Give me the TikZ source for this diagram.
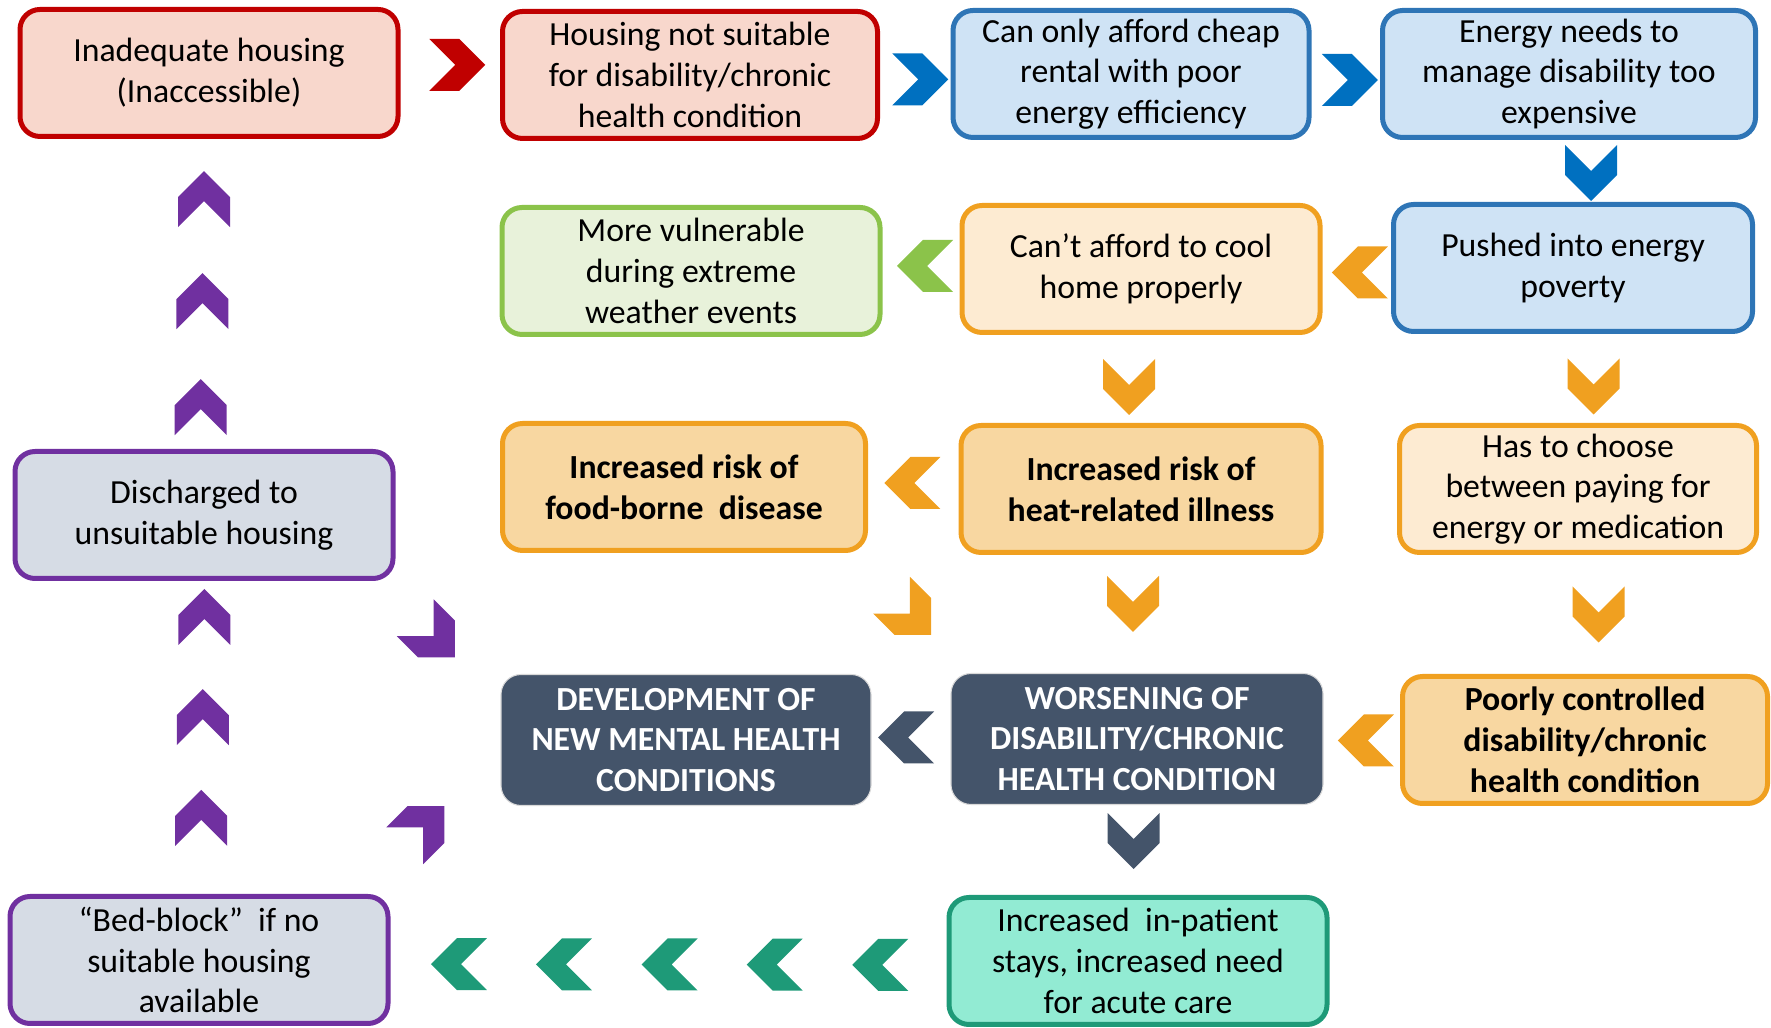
\documentclass[tikz,border=0pt]{standalone}
\usepackage{fontspec}
\setmainfont{Carlito}
\usetikzlibrary{calc}
\definecolor{redline}{HTML}{C00000}
\definecolor{redfill}{HTML}{F8D7CC}
\definecolor{blueline}{HTML}{2E75B6}
\definecolor{bluefill}{HTML}{CFE3F5}
\definecolor{bluechev}{HTML}{0070C0}
\definecolor{greenline}{HTML}{8BC34A}
\definecolor{greenfill}{HTML}{E8F2DA}
\definecolor{orangeline}{HTML}{F0A020}
\definecolor{orangelight}{HTML}{FDEBD2}
\definecolor{orangefill}{HTML}{F8D7A1}
\definecolor{slate}{HTML}{44546A}
\definecolor{purpleline}{HTML}{7030A0}
\definecolor{purplefill}{HTML}{D6DCE5}
\definecolor{tealline}{HTML}{1E9A78}
\definecolor{tealfill}{HTML}{92EBD3}
\tikzset{
  box/.style={rectangle,rounded corners=2mm,line width=0.5mm,align=center,
    inner sep=0pt,minimum width=37.8mm,minimum height=12.7mm,
    font=\fontsize{9.6}{11.6}\selectfont},
  redbox/.style={box,draw=redline,fill=redfill},
  bluebox/.style={box,draw=blueline,fill=bluefill},
  greenbox/.style={box,draw=greenline,fill=greenfill},
  lightbox/.style={box,draw=orangeline,fill=orangelight},
  boldbox/.style={box,draw=orangeline,fill=orangefill,
    font=\fontsize{9.6}{11.6}\selectfont\bfseries},
  darkbox/.style={box,draw=black!15,line width=0.3pt,fill=slate,text=white,
    minimum height=13.1mm,font=\fontsize{9.6}{11.6}\selectfont\bfseries},
  purplebox/.style={box,draw=purpleline,fill=purplefill},
  tealbox/.style={box,draw=tealline,fill=tealfill},
  chev/.pic={\fill[pic actions] (-28,-26) -- (-2,0) -- (-28,26) -- (2,26)
    -- (28,0) -- (2,-26) -- cycle;},
}

\begin{document}
\begin{tikzpicture}[x=0.1mm,y=-0.1mm]
  \path[use as bounding box] (0,0) rectangle (1771,1028);
  % boxes
  \node[redbox] (inad) at (209,73) {Inadequate housing\\(Inaccessible)};
  \node[redbox,minimum width=37.5mm] (unsuit) at (690,75) {Housing not suitable\\for disability/chronic\\health condition};
  \node[bluebox,minimum width=35.6mm] (cheap) at (1131,74) {Can only afford cheap\\rental with poor\\energy efficiency};
  \node[bluebox,minimum width=37.3mm] (energy) at (1569,74) {Energy needs to\\manage disability too\\expensive};
  \node[greenbox] (vuln) at (691,271) {More vulnerable\\during extreme\\weather events};
  \node[lightbox,minimum width=35.8mm] (cool) at (1141,269) {Can’t afford to cool\\home properly};
  \node[bluebox,minimum width=35.9mm] (poverty) at (1573,268) {Pushed into energy\\poverty};
  \node[purplebox] (disch) at (204,515) {Discharged to\\unsuitable housing};
  \node[boldbox,minimum width=36.3mm] (food) at (684,487) {Increased risk of\\food-borne\ \ disease};
  \node[boldbox,minimum width=36mm] (heat) at (1141,489) {Increased risk of\\heat-related illness};
  \node[lightbox,minimum width=35.7mm] (choose) at (1578,489) {Has to choose\\between paying for\\energy or medication};
  \node[darkbox,minimum width=37mm] (mental) at (686,740) {DEVELOPMENT OF\\NEW MENTAL HEALTH\\CONDITIONS};
  \node[darkbox,minimum width=37.2mm] (worse) at (1137,739) {WORSENING OF\\DISABILITY/CHRONIC\\HEALTH CONDITION};
  \node[boldbox,minimum width=36.5mm] (poorly) at (1585,740) {Poorly controlled\\disability/chronic\\health condition};
  \node[purplebox] (bedblock) at (199,960) {“Bed-block”\ \ if no\\suitable housing\\available};
  \node[tealbox] (inpat) at (1138,961) {Increased\ \ in-patient\\stays, increased need\\for acute care};
  % chevrons between the boxes
  \pic[fill=redline] at ($(inad.east)!.5!(unsuit.west)+(7,-9)$) {chev};
  \pic[fill=bluechev] at ($(unsuit.east)!.5!(cheap.west)+(5,5)$) {chev};
  \pic[fill=bluechev] at ($(cheap.east)!.5!(energy.west)+(4,6)$) {chev};
  \pic[rotate=-90,fill=bluechev] at ($(energy.south)!.5!(poverty.north)+(20,2)$) {chev};
  \pic[rotate=180,fill=orangeline] at ($(poverty.west)!.5!(cool.east)+(3,4)$) {chev};
  \pic[rotate=180,fill=greenline] at ($(cool.west)!.5!(vuln.east)+(4,-4)$) {chev};
  \pic[rotate=-90,fill=orangeline] at ($(cool.south)!.5!(heat.north)+(-12,8)$) {chev};
  \pic[rotate=-90,fill=orangeline] at ($(poverty.south)!.5!(choose.north)+(18,8)$) {chev};
  \pic[rotate=180,fill=orangeline] at ($(heat.west)!.5!(food.east)+(-1,-5)$) {chev};
  \pic[rotate=-45,fill=orangeline] at ($(food.south east)!.5!(worse.north west)+(2,2)$) {chev};
  \pic[rotate=-90,fill=orangeline] at ($(heat.south)!.5!(worse.north)+(-6,-10)$) {chev};
  \pic[rotate=-90,fill=orangeline] at ($(choose.south)!.5!(poorly.north)+(17,0)$) {chev};
  \pic[rotate=180,fill=orangeline] at ($(poorly.west)!.5!(worse.east)+(4,1)$) {chev};
  \pic[rotate=180,fill=slate] at ($(worse.west)!.5!(mental.east)+(-5,-2)$) {chev};
  \pic[rotate=-90,fill=slate] at ($(worse.south)!.5!(inpat.north)+(-4,-9)$) {chev};
  \foreach \f in {.119,.309,.498,.688,.877}
    \pic[rotate=180,fill=tealline] at ($(inpat.west)!\f!(bedblock.east)+(0,4)$) {chev};
  % purple column on the left
  \foreach \f in {.115,.435,.757}
    \pic[rotate=90,fill=purpleline] at ($(disch.south)!\f!(bedblock.north)+(1,0)$) {chev};
  \foreach \f in {.194,.523,.865}
    \pic[rotate=90,fill=purpleline] at ($(inad.south)!\f!(disch.north)+(-4,0)$) {chev};
  \pic[rotate=-45,fill=purpleline] at ($(disch.south east)!.5!(mental.west)+(-13,-23)$) {chev};
  \pic[rotate=45,fill=purpleline] at ($(bedblock.north east)!.5!(mental.west)+(-21,9)$) {chev};
\end{tikzpicture}
\end{document}
